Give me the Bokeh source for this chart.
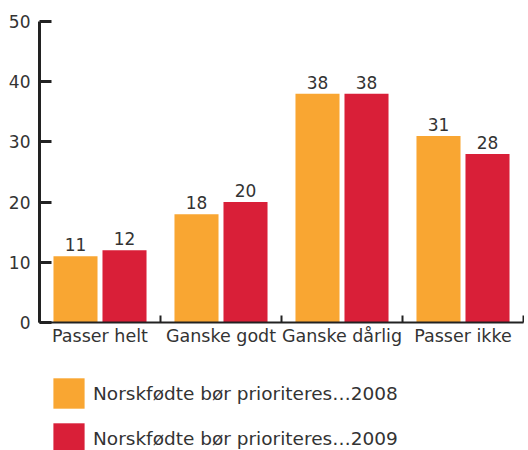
from bokeh.plotting import figure
from bokeh.layouts import column
from bokeh.models import (ColumnDataSource, Range1d, FixedTicker, Legend, LegendItem, LabelSet)
from bokeh.core.properties import value
from bokeh.embed import file_html
from bokeh.resources import INLINE

categories = ["Passer helt", "Ganske godt", "Ganske dårlig", "Passer ikke"]
values_2008 = [11, 18, 38, 31]
values_2009 = [12, 20, 38, 28]
series_names = ["Norskfødte bør prioriteres…2008", "Norskfødte bør prioriteres…2009"]
y_ticks = [0, 10, 20, 30, 40, 50]

FONT = "DejaVu Sans"
FS = "17px"
TXT = "#333333"
AX = "#222222"
ORANGE = "#F9A632"
RED = "#D91F38"

centers = [i + 0.5 for i in range(len(categories))]
off = 0.2025
w = 0.364

src08 = ColumnDataSource(dict(x=[c - off for c in centers], top=values_2008,
                              lab=[str(v) for v in values_2008]))
src09 = ColumnDataSource(dict(x=[c + off for c in centers], top=values_2009,
                              lab=[str(v) for v in values_2009]))

p = figure(width=524, height=356, output_backend="svg", toolbar_location=None,
           x_range=Range1d(0, len(categories)), y_range=Range1d(0, 50),
           min_border_left=39, min_border_right=1, min_border_top=21,
           min_border_bottom=34)
p.outline_line_color = None
p.xgrid.grid_line_color = None
p.ygrid.grid_line_color = None
p.background_fill_color = "white"
p.border_fill_color = "white"

r1 = p.vbar(x="x", top="top", width=w, bottom=0, source=src08,
            fill_color=ORANGE, line_color=None)
r2 = p.vbar(x="x", top="top", width=w, bottom=0, source=src09,
            fill_color=RED, line_color=None)

for s in (src08, src09):
    p.add_layout(LabelSet(x="x", y="top", text="lab", source=s, text_align="center",
                          text_baseline="alphabetic", y_offset=5,
                          text_font=value(FONT), text_font_size=value(FS),
                          text_color=TXT))

# y axis
ya = p.yaxis[0]
ya.ticker = FixedTicker(ticks=y_ticks)
ya.axis_line_color = AX
ya.axis_line_width = 3
ya.major_tick_line_color = AX
ya.major_tick_line_width = 3
ya.major_tick_in = 12
ya.major_tick_out = 0
ya.minor_tick_line_color = None
ya.minor_tick_out = 0
ya.major_label_text_font = FONT
ya.major_label_text_font_size = FS
ya.major_label_text_color = TXT
ya.major_label_standoff = 9

# x axis
xa = p.xaxis[0]
xa.ticker = FixedTicker(ticks=centers, minor_ticks=list(range(len(categories) + 1)))
xa.major_label_overrides = {c: lab for c, lab in zip(centers, categories)}
xa.axis_line_color = AX
xa.axis_line_width = 2
xa.major_tick_line_color = None
xa.major_tick_in = 0
xa.major_tick_out = 0
xa.minor_tick_line_color = AX
xa.minor_tick_line_width = 2
xa.minor_tick_in = 7
xa.minor_tick_out = 0
xa.major_label_text_font = FONT
xa.major_label_text_font_size = "17.5px"
xa.major_label_text_color = TXT
xa.major_label_standoff = 3

# legend panel (its renderers use the series data but lie far outside its view)
lg = figure(width=524, height=94, output_backend="svg", toolbar_location=None,
            x_range=Range1d(1000, 1004), y_range=Range1d(1000, 1001),
            x_axis_location=None, y_axis_location=None,
            min_border_left=0, min_border_right=0, min_border_top=0, min_border_bottom=0)
lg.outline_line_color = None
lg.xgrid.grid_line_color = None
lg.ygrid.grid_line_color = None
l1 = lg.vbar(x="x", top="top", width=w, bottom=0, source=src08,
             fill_color=ORANGE, line_color=None)
l2 = lg.vbar(x="x", top="top", width=w, bottom=0, source=src09,
             fill_color=RED, line_color=None)

legend = Legend(items=[LegendItem(label=series_names[0], renderers=[l1]),
                       LegendItem(label=series_names[1], renderers=[l2])],
                location=(10, -7), orientation="vertical",
                glyph_width=39, glyph_height=38, spacing=7,
                label_standoff=5, padding=0, margin=0,
                border_line_color=None, background_fill_alpha=0,
                label_text_font=FONT, label_text_font_size="18.5px",
                label_text_color=TXT)
lg.add_layout(legend)

open("out.html", "w").write(file_html(column(p, lg), INLINE))
